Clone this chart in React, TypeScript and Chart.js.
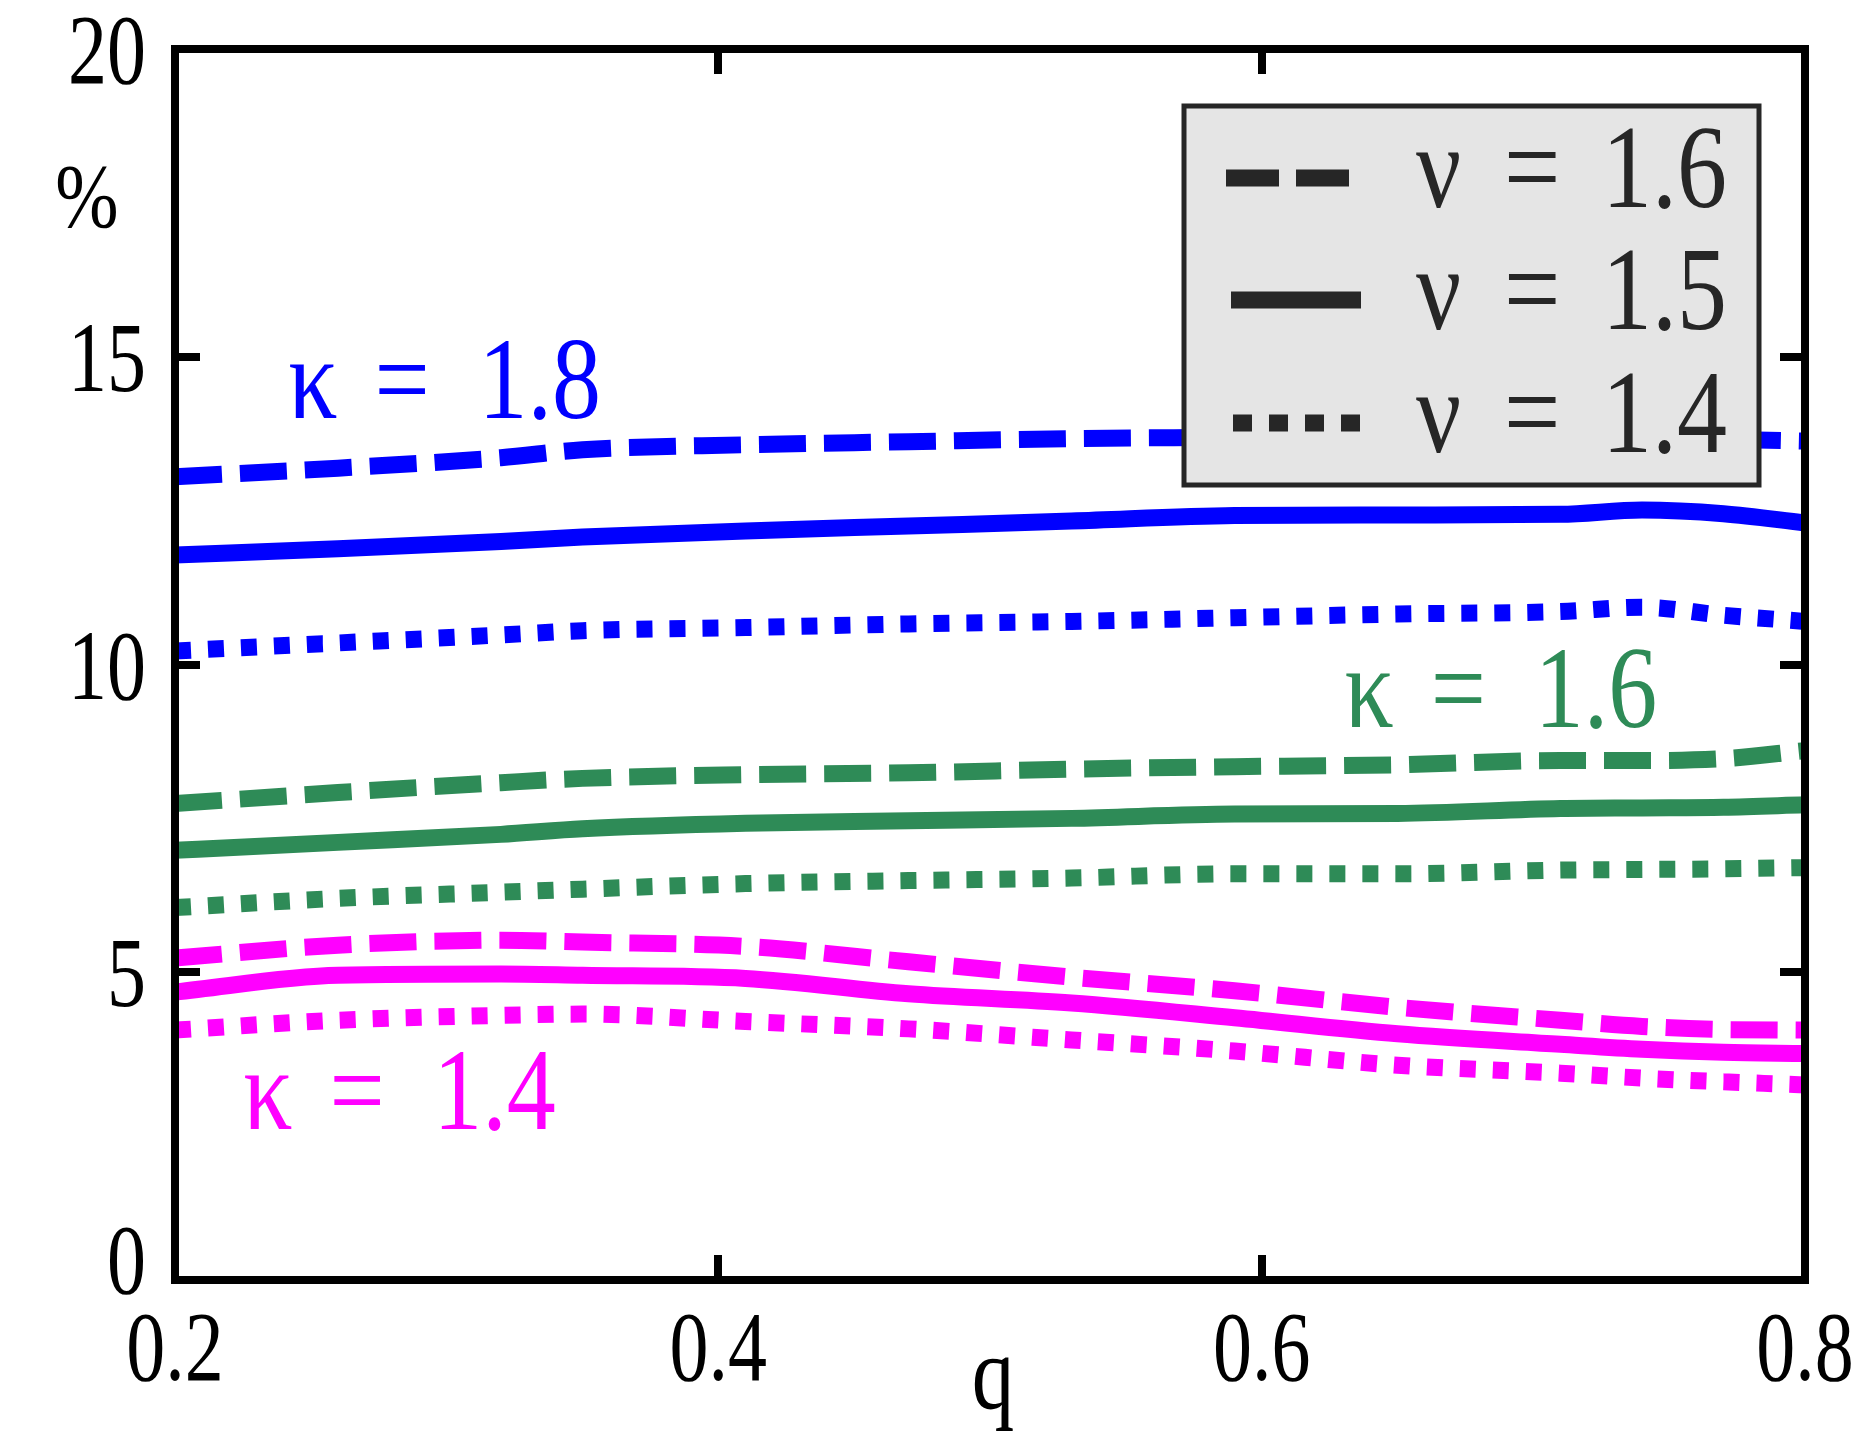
import { useEffect, useRef } from "react"
import { Chart, registerables } from "chart.js"

Chart.register(...registerables)

// q values where the curves were sampled
const qValues = [0.2, 0.26, 0.32, 0.35, 0.41, 0.47, 0.53, 0.59, 0.65, 0.71, 0.74, 0.77, 0.8]

// kappa = 1.8 (blue)
const blueNu16 = [13.05, 13.19, 13.36, 13.49, 13.57, 13.62, 13.67, 13.69, 13.7, 13.7, 13.69, 13.66, 13.63]
const blueNu15 = [11.78, 11.88, 12.0, 12.07, 12.17, 12.25, 12.33, 12.42, 12.43, 12.44, 12.51, 12.45, 12.3]
const blueNu14 = [10.22, 10.35, 10.48, 10.55, 10.6, 10.66, 10.7, 10.76, 10.82, 10.86, 10.93, 10.8, 10.7]

// kappa = 1.6 (green)
const greenNu16 = [7.74, 7.92, 8.08, 8.15, 8.21, 8.24, 8.3, 8.34, 8.37, 8.44, 8.44, 8.47, 8.6]
const greenNu15 = [6.98, 7.11, 7.24, 7.33, 7.42, 7.46, 7.5, 7.57, 7.58, 7.66, 7.67, 7.68, 7.72]
const greenNu14 = [6.05, 6.2, 6.3, 6.35, 6.44, 6.49, 6.53, 6.6, 6.6, 6.66, 6.67, 6.68, 6.7]

// kappa = 1.4 (magenta)
const magentaNu16 = [5.23, 5.44, 5.52, 5.49, 5.42, 5.17, 4.92, 4.7, 4.43, 4.22, 4.12, 4.07, 4.06]
const magentaNu15 = [4.68, 4.95, 4.97, 4.95, 4.9, 4.65, 4.5, 4.26, 4.0, 3.83, 3.75, 3.7, 3.68]
const magentaNu14 = [4.06, 4.22, 4.3, 4.32, 4.2, 4.08, 3.9, 3.72, 3.49, 3.36, 3.28, 3.22, 3.17]

const xTicks = [0.2, 0.4, 0.6, 0.8]
const yTicks = [0, 5, 10, 15, 20]
const nuLabels = ["1.6", "1.5", "1.4"]
const kappaLabels = ["1.8", "1.6", "1.4"]

const BLUE = "#0000ff"
const GREEN = "#2e8b57"
const MAGENTA = "#ff00ff"
const DARK = "#262626"
const DASH = [47, 18]
const DOT = [16, 17]
const FONT = '"Liberation Serif", "DejaVu Serif", serif'

function drawText(ctx: CanvasRenderingContext2D, text: string, x: number, y: number, size: number, color: string, align: CanvasTextAlign, sy: number) {
  ctx.save()
  ctx.font = `${size}px ${FONT}`
  ctx.fillStyle = color
  ctx.textAlign = align
  ctx.textBaseline = "alphabetic"
  ctx.translate(x, y)
  ctx.scale(1, sy)
  ctx.fillText(text, 0, 0)
  ctx.restore()
}

function drawEq(ctx: CanvasRenderingContext2D, sym: string, val: string, x: number, y: number, size: number, color: string, valOffset: number) {
  drawText(ctx, sym, x, y, size, color, "left", 1.18)
  drawText(ctx, "=", x + size * 0.88, y, size, color, "left", 1.18)
  drawText(ctx, val, x + size * valOffset, y, size, color, "left", 1.18)
}

const textPlugin = {
  id: "matlabText",
  afterDraw(chart: any) {
    const { ctx, chartArea, scales } = chart
    const xs = scales.x
    const ys = scales.y

    yTicks.forEach((v) => {
      const py = ys.getPixelForValue(v)
      drawText(ctx, String(v), chartArea.left - 29, py + (v === 0 ? 13 : 34), 78, "#000", "right", 1.27)
    })
    xTicks.forEach((v) => {
      drawText(ctx, v.toFixed(1), xs.getPixelForValue(v), chartArea.bottom + 100, 78, "#000", "center", 1.27)
    })

    drawText(ctx, "%", chartArea.left - 88, ys.getPixelForValue(17.1), 76, "#000", "center", 1.2)
    drawText(ctx, "q", (chartArea.left + chartArea.right) / 2 + 3, chartArea.bottom + 128, 85, "#000", "center", 1.25)

    drawEq(ctx, "κ", kappaLabels[0], xs.getPixelForValue(0.2417), ys.getPixelForValue(14.01), 98, BLUE, 1.94)
    drawEq(ctx, "κ", kappaLabels[1], xs.getPixelForValue(0.6305), ys.getPixelForValue(8.99), 98, GREEN, 1.94)
    drawEq(ctx, "κ", kappaLabels[2], xs.getPixelForValue(0.2251), ys.getPixelForValue(2.46), 98, MAGENTA, 1.94)

    // legend box
    const lx = chartArea.right - 621
    const ly = chartArea.top + 57
    const lw = 575
    const lh = 379
    ctx.save()
    ctx.fillStyle = "#e5e5e5"
    ctx.fillRect(lx, ly, lw, lh)
    ctx.strokeStyle = DARK
    ctx.lineWidth = 5
    ctx.strokeRect(lx, ly, lw, lh)

    const rowY = [ly + 72, ly + 194, ly + 317]
    const swatches = [
      { x0: lx + 42, x1: lx + 165, dash: [53, 17] },
      { x0: lx + 47, x1: lx + 177, dash: [] as number[] },
      { x0: lx + 49, x1: lx + 176, dash: [19, 17] },
    ]
    swatches.forEach((s, i) => {
      ctx.beginPath()
      ctx.setLineDash(s.dash)
      ctx.lineCap = "butt"
      ctx.lineWidth = 17
      ctx.strokeStyle = DARK
      ctx.moveTo(s.x0, rowY[i])
      ctx.lineTo(s.x1, rowY[i])
      ctx.stroke()
    })
    ctx.setLineDash([])
    ctx.restore()

    nuLabels.forEach((v, i) => {
      drawEq(ctx, "ν", v, lx + 232, rowY[i] + 29, 100, DARK, 1.86)
    })
  },
}

function line(label: string, data: number[], color: string, dash: number[]) {
  return {
    label,
    data: data.map((v, i) => ({ x: qValues[i], y: v })),
    borderColor: color,
    backgroundColor: color,
    borderWidth: 17,
    borderDash: dash,
    borderCapStyle: "butt" as const,
    borderJoinStyle: "round" as const,
    pointRadius: 0,
    cubicInterpolationMode: "monotone" as const,
    fill: false,
    clip: 0,
  }
}

const frame = (z: number) => ({
  grid: { display: true, drawOnChartArea: false, drawTicks: true, tickLength: -25, lineWidth: 8, color: "#000", z },
  border: { display: true, width: 8, color: "#000", z },
  ticks: { display: false },
})

export default function App() {
  const canvasRef = useRef<HTMLCanvasElement>(null)

  useEffect(() => {
    document.body.style.margin = "0"
    if (!canvasRef.current) return
    const ctx = canvasRef.current.getContext("2d")
    if (!ctx) return

    const chart = new Chart(ctx, {
      type: "line",
      data: {
        datasets: [
          line("κ = 1.8, ν = 1.6", blueNu16, BLUE, DASH),
          line("κ = 1.8, ν = 1.5", blueNu15, BLUE, []),
          line("κ = 1.8, ν = 1.4", blueNu14, BLUE, DOT),
          line("κ = 1.6, ν = 1.6", greenNu16, GREEN, DASH),
          line("κ = 1.6, ν = 1.5", greenNu15, GREEN, []),
          line("κ = 1.6, ν = 1.4", greenNu14, GREEN, DOT),
          line("κ = 1.4, ν = 1.6", magentaNu16, MAGENTA, DASH),
          line("κ = 1.4, ν = 1.5", magentaNu15, MAGENTA, []),
          line("κ = 1.4, ν = 1.4", magentaNu14, MAGENTA, DOT),
        ],
      },
      options: {
        responsive: false,
        animation: false,
        layout: { padding: 0 },
        scales: {
          x: {
            type: "linear",
            position: "bottom",
            min: 0.2,
            max: 0.8,
            afterBuildTicks: (s: any) => {
              s.ticks = xTicks.map((v) => ({ value: v }))
            },
            afterFit: (s: any) => {
              s.height = 172
            },
            ...frame(1),
          },
          x2: {
            type: "linear",
            position: "top",
            min: 0.2,
            max: 0.8,
            afterBuildTicks: (s: any) => {
              s.ticks = xTicks.map((v) => ({ value: v }))
            },
            afterFit: (s: any) => {
              s.height = 49
            },
            ...frame(1),
          },
          y: {
            type: "linear",
            position: "left",
            min: 0,
            max: 20,
            afterBuildTicks: (s: any) => {
              s.ticks = yTicks.map((v) => ({ value: v }))
            },
            afterFit: (s: any) => {
              s.width = 175
            },
            ...frame(1),
          },
          y2: {
            type: "linear",
            position: "right",
            min: 0,
            max: 20,
            afterBuildTicks: (s: any) => {
              s.ticks = yTicks.map((v) => ({ value: v }))
            },
            afterFit: (s: any) => {
              s.width = 64
            },
            ...frame(1),
          },
        },
        plugins: {
          legend: { display: false },
          tooltip: { enabled: false },
        },
      },
      plugins: [textPlugin],
    } as any)

    return () => {
      chart.destroy()
    }
  }, [])

  return (
    <div style={{ width: 1869, height: 1452, background: "#fff" }}>
      <canvas ref={canvasRef} width={1869} height={1452} style={{ display: "block" }}></canvas>
    </div>
  )
}
